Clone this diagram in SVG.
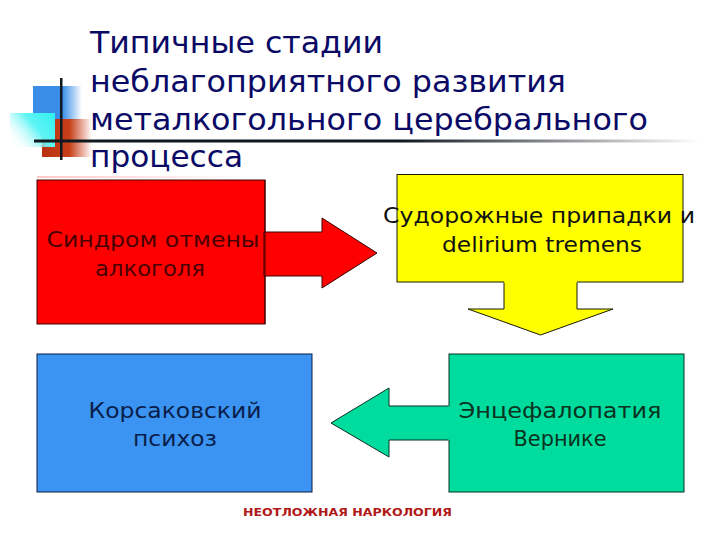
<svg xmlns="http://www.w3.org/2000/svg" width="720" height="540" viewBox="0 0 720 540">
<defs>
<linearGradient id="gBlue" x1="33" y1="0" x2="82" y2="0" gradientUnits="userSpaceOnUse">
<stop offset="0" stop-color="#3a8ee8"/><stop offset="0.6" stop-color="#3a8ee8"/><stop offset="1" stop-color="#3a8ee8" stop-opacity="0"/>
</linearGradient>
<linearGradient id="gCyan" x1="55" y1="113" x2="14" y2="147" gradientUnits="userSpaceOnUse">
<stop offset="0" stop-color="#30f0f0"/><stop offset="0.45" stop-color="#60f4f4"/><stop offset="1" stop-color="#ffffff" stop-opacity="0"/>
</linearGradient>
<linearGradient id="gBrown" x1="42" y1="0" x2="92" y2="0" gradientUnits="userSpaceOnUse">
<stop offset="0" stop-color="#b83010"/><stop offset="0.55" stop-color="#c8401a"/><stop offset="1" stop-color="#c8401a" stop-opacity="0"/>
</linearGradient>
<linearGradient id="gLine" x1="34" y1="0" x2="700" y2="0" gradientUnits="userSpaceOnUse">
<stop offset="0" stop-color="#101820"/><stop offset="0.55" stop-color="#101820"/><stop offset="1" stop-color="#101820" stop-opacity="0"/>
</linearGradient>
<linearGradient id="gPink" x1="37" y1="0" x2="245" y2="0" gradientUnits="userSpaceOnUse">
<stop offset="0" stop-color="#ffc8c8"/><stop offset="1" stop-color="#ffc8c8" stop-opacity="0"/>
</linearGradient>
<style>
.title{font-family:"DejaVu Sans","Noto Sans",sans-serif;font-size:31px;fill:#0a0a66}
.lbl{font-family:"DejaVu Sans","Noto Sans",sans-serif;font-size:21px;text-anchor:middle}
.foot{font-family:"DejaVu Sans","Noto Sans",sans-serif;font-size:11px;font-weight:bold;fill:#b01818}
.red{fill:#ff0000;stroke:#3a0000;stroke-width:1}
.yellow{fill:#ffff00;stroke:#1a1a00;stroke-width:1}
.blue{fill:#3b94f2;stroke:#0a1a40;stroke-width:1}
.green{fill:#00dc9e;stroke:#0a3020;stroke-width:1}
.open{fill:none}
</style>
</defs>
<rect width="720" height="540" fill="#ffffff"/>
<g id="decor">
<rect x="33" y="86" width="49" height="34" fill="url(#gBlue)"/>
<rect x="42" y="119" width="50" height="38" fill="url(#gBrown)"/>
<rect x="10" y="113" width="45" height="34" fill="url(#gCyan)"/>
<rect x="34" y="139.5" width="666" height="3" fill="url(#gLine)"/>
<rect x="60" y="78" width="2.5" height="82" fill="#101820"/>
<rect x="37" y="176" width="208" height="2" fill="url(#gPink)"/>
</g>
<g id="title">
<text class="title" x="90" y="53" textLength="293" lengthAdjust="spacingAndGlyphs">Типичные стадии</text>
<text class="title" x="90" y="92" textLength="476" lengthAdjust="spacingAndGlyphs">неблагоприятного развития</text>
<text class="title" x="90" y="130" textLength="558" lengthAdjust="spacingAndGlyphs">металкогольного церебрального</text>
<text class="title" x="90" y="167" textLength="153" lengthAdjust="spacingAndGlyphs">процесса</text>
</g>
<g id="node-withdrawal">
<rect class="red" x="37" y="180" width="228" height="144"/>
</g>
<g id="node-seizures">
<rect class="yellow" x="397" y="174.5" width="286" height="107.5"/>
</g>
<g id="node-korsakoff">
<rect class="blue" x="37" y="354" width="275" height="138"/>
</g>
<g id="node-wernicke">
<rect class="green" x="449" y="354" width="235" height="138"/>
</g>
<g id="connectors">
<polygon class="red" points="264,232 322,232 322,218 377,253 322,288 322,276 264,276"/>
<line x1="265" y1="180" x2="265" y2="324" stroke="#3a0000" stroke-width="1"/>
<polygon points="504,281 504,309 468,309 540.5,335 613,309 577,309 577,281" fill="#ffff00"/>
<path class="yellow open" d="M504,282.5 V309 H468 L540.5,335 L613,309 H577 V282.5"/>
<polygon points="450,406 389,406 389,388 331,423 389,457 389,440 450,440" fill="#00dc9e"/>
<path class="green open" d="M448.5,406 H389 V388 L331,423 L389,457 V440 H448.5"/>
</g>
<g id="labels">
<text class="lbl" x="153" y="247" fill="#4a0000" textLength="213" lengthAdjust="spacingAndGlyphs">Синдром отмены</text>
<text class="lbl" x="150" y="276" fill="#4a0000" textLength="110" lengthAdjust="spacingAndGlyphs">алкоголя</text>
<text class="lbl" x="539" y="223" fill="#111111" textLength="312" lengthAdjust="spacingAndGlyphs">Судорожные припадки и</text>
<text class="lbl" x="542" y="252" fill="#111111" textLength="200" lengthAdjust="spacingAndGlyphs">delirium tremens</text>
<text class="lbl" x="175" y="418" fill="#0a1e4a" textLength="173" lengthAdjust="spacingAndGlyphs">Корсаковский</text>
<text class="lbl" x="175" y="446" fill="#0a1e4a" textLength="84" lengthAdjust="spacingAndGlyphs">психоз</text>
<text class="lbl" x="560" y="418" fill="#0a3320" textLength="203" lengthAdjust="spacingAndGlyphs">Энцефалопатия</text>
<text class="lbl" x="560" y="446" fill="#0a3320" textLength="93" lengthAdjust="spacingAndGlyphs">Вернике</text>
</g>
<text class="foot" x="243" y="516" textLength="209" lengthAdjust="spacingAndGlyphs">НЕОТЛОЖНАЯ НАРКОЛОГИЯ</text>
</svg>
